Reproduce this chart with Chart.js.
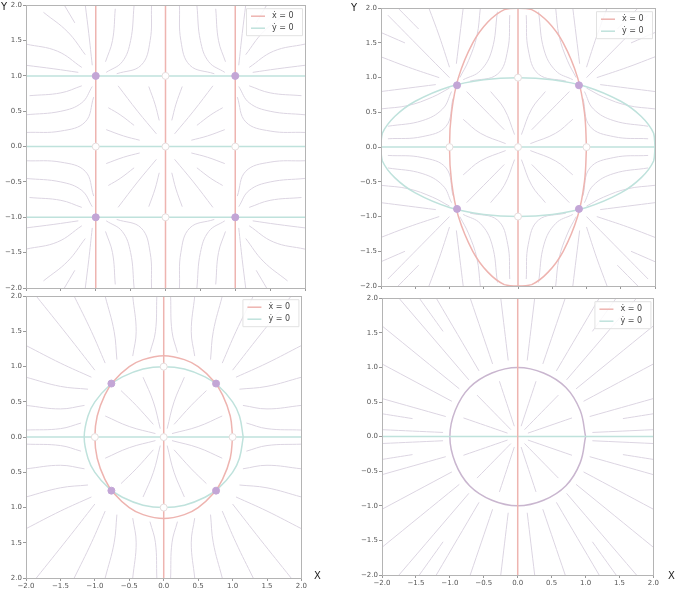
<!DOCTYPE html>
<html>
<head>
<meta charset="utf-8">
<script src="https://cdn.jsdelivr.net/npm/chart.js@4"></script>
<style>
  body { margin: 0; background: #fff; width: 678px; height: 589px; overflow: hidden; position: relative; font-family: "DejaVu Sans", sans-serif; }
  .panel { position: absolute; }
  .axname { position: absolute; font-size: 10px; color: #222; }
</style>
</head>
<body>
<div class="panel" style="left:0px;top:0px;width:310px;height:302px"><canvas id="c1"></canvas></div>
<div class="panel" style="left:355px;top:3px;width:305px;height:297px"><canvas id="c2"></canvas></div>
<div class="panel" style="left:0px;top:291px;width:308px;height:301px"><canvas id="c3"></canvas></div>
<div class="panel" style="left:356px;top:293px;width:304px;height:296px"><canvas id="c4"></canvas></div>
<div class="axname" style="left:1px;top:1px">Y</div>
<div class="axname" style="left:351px;top:2px">Y</div>
<div class="axname" style="left:314px;top:570px">X</div>
<div class="axname" style="left:668px;top:570px">X</div>
<script>
// colores
const ROJO = '#eeb4b0';
const VERDE = '#bfe2dc';
const MORADO = '#c3a6d6';
const GRIS_FLUJO = '#dcd5e2';
const CIRCULO = '#c9b6cf';

const tickVals = [-2, -1.5, -1, -0.5, 0, 0.5, 1, 1.5, 2];

// ---- Panel 1: nulclinas rectas ----
const p1RojoX = [-1, 0, 1];
const p1VerdeY = [-1, 0, 1];
const p1Estables = [[-1, 1], [1, 1], [-1, -1], [1, -1]];
const p1Abiertos = [[0, 0], [0, 1], [0, -1], [1, 0], [-1, 0]];
// lineas de flujo, cuadrante x>0, y>0 (se reflejan)
const p1Flujo = [
  [[0.09, 0.37], [0.15, 0.6], [0.24, 0.85]],
  [[0.13, 0.18], [0.4, 0.5], [0.68, 0.86]],
  [[0.37, 0.09], [0.6, 0.15], [0.85, 0.24]],
  [[0.45, 0.3], [0.65, 0.45], [0.82, 0.55]],
  [[2.0, 0.2], [1.5, 0.22], [1.15, 0.35], [1.03, 0.7]],
  [[2.0, 0.45], [1.5, 0.5], [1.2, 0.62], [1.05, 0.85]],
  [[1.95, 0.72], [1.5, 0.76], [1.2, 0.86]],
  [[0.2, 2.0], [0.22, 1.5], [0.35, 1.15], [0.7, 1.03]],
  [[0.45, 2.0], [0.5, 1.5], [0.62, 1.2], [0.85, 1.05]],
  [[0.72, 1.95], [0.76, 1.5], [0.86, 1.2]],
  [[1.15, 2.0], [1.1, 1.6], [1.05, 1.15]],
  [[1.75, 1.9], [1.4, 1.62], [1.15, 1.3]],
  [[2.0, 1.45], [1.55, 1.35], [1.2, 1.12]],
  [[2.0, 1.15], [1.6, 1.1], [1.25, 1.05]],
  [[1.45, 2.0], [1.3, 1.75]]
];

// ---- Panel 2: elipses ----
const p2Roja = [[1, 0], [0.97, 0.5], [0.87, 1], [0.66, 1.5], [0.44, 1.8], [0.2, 1.98], [0, 2], [-0.2, 1.98], [-0.44, 1.8], [-0.66, 1.5], [-0.87, 1], [-0.97, 0.5], [-1, 0], [-0.97, -0.5], [-0.87, -1], [-0.66, -1.5], [-0.44, -1.8], [-0.2, -1.98], [0, -2], [0.2, -1.98], [0.44, -1.8], [0.66, -1.5], [0.87, -1], [0.97, -0.5], [1, 0]];
const p2Verde = [[2, 0], [1.98, 0.2], [1.8, 0.44], [1.5, 0.66], [1, 0.87], [0.5, 0.97], [0, 1], [-0.5, 0.97], [-1, 0.87], [-1.5, 0.66], [-1.8, 0.44], [-1.98, 0.2], [-2, 0], [-1.98, -0.2], [-1.8, -0.44], [-1.5, -0.66], [-1, -0.87], [-0.5, -0.97], [0, -1], [0.5, -0.97], [1, -0.87], [1.5, -0.66], [1.8, -0.44], [1.98, -0.2], [2, 0]];
const p2Estables = [[0.89, 0.89], [-0.89, 0.89], [-0.89, -0.89], [0.89, -0.89]];
const p2Abiertos = [[0, 0], [1, 0], [-1, 0], [0, 1], [0, -1]];
const p2Flujo = [
  [[0.05, 0.18], [0.2, 0.55], [0.4, 0.8]],
  [[0.18, 0.05], [0.55, 0.2], [0.8, 0.4]],
  [[0.2, 0.25], [0.5, 0.55], [0.75, 0.8]],
  [[1.9, 0.12], [1.4, 0.15], [1.05, 0.3], [0.95, 0.7]],
  [[1.9, 0.3], [1.4, 0.38], [1.1, 0.55], [0.97, 0.8]],
  [[2.0, 0.55], [1.6, 0.6], [1.25, 0.72], [1.0, 0.85]],
  [[2.0, 0.8], [1.6, 0.85], [1.2, 0.9]],
  [[0.12, 1.9], [0.15, 1.4], [0.3, 1.05], [0.7, 0.95]],
  [[0.3, 1.95], [0.38, 1.4], [0.55, 1.1], [0.8, 0.97]],
  [[0.55, 2.0], [0.6, 1.6], [0.72, 1.25], [0.85, 1.0]],
  [[0.8, 2.0], [0.85, 1.6], [0.9, 1.2]],
  [[1.9, 1.9], [1.4, 1.4], [1.0, 1.0]],
  [[1.3, 2.0], [1.15, 1.6], [1.0, 1.15]],
  [[2.0, 1.3], [1.6, 1.15], [1.15, 1.0]],
  [[1.75, 2.0], [1.45, 1.7]],
  [[2.0, 1.65], [1.65, 1.5]]
];

// ---- Panel 3: curvas casi circulares ----
const p3Roja = [[1, 0], [0.966, 0.3], [0.854, 0.6], [0.721, 0.8], [0.5, 1.0], [0.3, 1.1], [0, 1.155], [-0.3, 1.1], [-0.5, 1.0], [-0.721, 0.8], [-0.854, 0.6], [-0.966, 0.3], [-1, 0], [-0.966, -0.3], [-0.854, -0.6], [-0.721, -0.8], [-0.5, -1.0], [-0.3, -1.1], [0, -1.155], [0.3, -1.1], [0.5, -1.0], [0.721, -0.8], [0.854, -0.6], [0.966, -0.3], [1, 0]];
const p3Verde = [[1.155, 0], [1.1, 0.3], [1.0, 0.5], [0.8, 0.721], [0.6, 0.854], [0.3, 0.966], [0, 1], [-0.3, 0.966], [-0.6, 0.854], [-0.8, 0.721], [-1.0, 0.5], [-1.1, 0.3], [-1.155, 0], [-1.1, -0.3], [-1.0, -0.5], [-0.8, -0.721], [-0.6, -0.854], [-0.3, -0.966], [0, -1], [0.3, -0.966], [0.6, -0.854], [0.8, -0.721], [1.0, -0.5], [1.1, -0.3], [1.155, 0]];
const p3Estables = [[0.76, 0.76], [-0.76, 0.76], [-0.76, -0.76], [0.76, -0.76]];
const p3Abiertos = [[0, 0], [1, 0], [-1, 0], [0, 1], [0, -1]];
const p3Flujo = [
  [[2.0, 0.1], [1.5, 0.12], [1.2, 0.2]],
  [[2.0, 0.45], [1.5, 0.4], [1.15, 0.45]],
  [[2.0, 0.85], [1.5, 0.72], [1.1, 0.68]],
  [[2.0, 1.3], [1.5, 1.05], [1.05, 0.85]],
  [[1.85, 2.0], [1.4, 1.45], [1.0, 0.95]],
  [[1.3, 2.0], [1.05, 1.5], [0.85, 1.05]],
  [[0.85, 2.0], [0.72, 1.5], [0.68, 1.1]],
  [[0.45, 2.0], [0.4, 1.5], [0.45, 1.15]],
  [[0.1, 2.0], [0.12, 1.5], [0.2, 1.2]],
  [[0.05, 0.12], [0.15, 0.5], [0.3, 0.85]],
  [[0.12, 0.05], [0.5, 0.15], [0.85, 0.3]],
  [[0.15, 0.18], [0.4, 0.45], [0.62, 0.66]]
];

// ---- Panel 4: circulo unitario ----
const p4Circulo = [[1, 0], [0.92, 0.38], [0.71, 0.71], [0.38, 0.92], [0, 1], [-0.38, 0.92], [-0.71, 0.71], [-0.92, 0.38], [-1, 0], [-0.92, -0.38], [-0.71, -0.71], [-0.38, -0.92], [0, -1], [0.38, -0.92], [0.71, -0.71], [0.92, -0.38], [1, 0]];
const p4Flujo = [
  [[2.0, 0.1], [1.1, 0.06]],
  [[2.0, 0.55], [1.06, 0.29]],
  [[2.0, 1.05], [0.97, 0.51]],
  [[2.0, 1.6], [0.86, 0.69]],
  [[1.75, 2.0], [0.72, 0.82]],
  [[1.2, 2.0], [0.57, 0.95]],
  [[0.7, 2.0], [0.37, 1.05]],
  [[0.25, 2.0], [0.14, 1.1]],
  [[2.0, 0.33], [1.55, 0.26]],
  [[1.45, 2.0], [1.1, 1.52]],
  [[0.15, 0.05], [0.8, 0.27]],
  [[0.1, 0.1], [0.6, 0.6]],
  [[0.05, 0.15], [0.27, 0.8]]
];

// ---- utilidades ----
function pts(arr) {
  return arr.map(p => ({ x: p[0], y: p[1] }));
}

// refleja las lineas del primer cuadrante a los otros tres
function reflejar(lineas) {
  const out = [];
  [[1, 1], [-1, 1], [-1, -1], [1, -1]].forEach(s => {
    lineas.forEach(l => out.push(l.map(p => [p[0] * s[0], p[1] * s[1]])));
  });
  return out;
}

function dsFlujo(lineas) {
  return reflejar(lineas).map(l => ({
    data: pts(l),
    showLine: true,
    borderColor: GRIS_FLUJO,
    borderWidth: 1,
    pointRadius: 0,
    tension: 0.4,
    order: 3
  }));
}

function dsCurva(arr, color, ancho) {
  return {
    data: pts(arr),
    showLine: true,
    borderColor: color,
    borderWidth: ancho || 1.5,
    pointRadius: 0,
    tension: 0.4,
    order: 2
  };
}

function dsVerticales(xs, color) {
  return xs.map(x => dsCurva([[x, -2], [x, 2]], color));
}

function dsHorizontales(ys, color) {
  return ys.map(y => dsCurva([[-2, y], [2, y]], color));
}

function dsPuntos(arr, relleno, borde) {
  return {
    data: pts(arr),
    showLine: false,
    pointRadius: 3.5,
    pointBackgroundColor: relleno,
    pointBorderColor: borde,
    pointBorderWidth: 1,
    order: 1
  };
}

// leyenda dibujada dentro del area del grafico
const leyendaInterna = {
  id: 'leyendaInterna',
  afterDraw(chart) {
    const ctx = chart.ctx;
    const a = chart.chartArea;
    const w = 56, h = 27;
    const x0 = a.right - w - 3, y0 = a.top + 3;
    ctx.save();
    ctx.fillStyle = 'rgba(255,255,255,0.85)';
    ctx.strokeStyle = '#e2e2e2';
    ctx.lineWidth = 1;
    ctx.beginPath();
    ctx.rect(x0 + 0.5, y0 + 0.5, w, h);
    ctx.fill();
    ctx.stroke();
    const items = [['\u1E8B = 0', ROJO], ['\u1E8F = 0', VERDE]];
    ctx.font = '8px "DejaVu Sans"';
    ctx.textBaseline = 'middle';
    items.forEach((it, i) => {
      const yy = y0 + 8 + i * 12;
      ctx.strokeStyle = it[1];
      ctx.lineWidth = 1.5;
      ctx.beginPath();
      ctx.moveTo(x0 + 5, yy);
      ctx.lineTo(x0 + 19, yy);
      ctx.stroke();
      ctx.fillStyle = '#444';
      ctx.fillText(it[0], x0 + 26, yy);
    });
    // marco completo
    ctx.strokeStyle = '#b4b4b4';
    ctx.lineWidth = 1;
    ctx.strokeRect(Math.round(a.left) + 0.5, Math.round(a.top) + 0.5, Math.round(a.right - a.left), Math.round(a.bottom - a.top));
    ctx.restore();
  }
};

function fmt(v, sinSigno) {
  const s = (sinSigno ? Math.abs(v) : v).toFixed(1);
  return s.replace('-', '\u2212');
}

function crearGrafico(id, datasets, opciones) {
  const escala = (eje) => ({
    type: 'linear',
    min: -2,
    max: 2,
    afterBuildTicks: s => { s.ticks = tickVals.map(v => ({ value: v })); },
    afterFit: s => {
      if (eje === 'x') s.height = 14; else s.width = 26;
    },
    border: { display: true, color: '#b4b4b4' },
    grid: { drawOnChartArea: false, drawTicks: true, tickLength: 3, color: '#999' },
    ticks: {
      display: eje === 'x' ? opciones.etiquetasX : true,
      autoSkip: false,
      maxRotation: 0,
      padding: 1,
      color: '#555',
      font: { family: 'DejaVu Sans', size: 7 },
      callback: v => fmt(v, eje === 'y' && opciones.sinSigno)
    }
  });
  return new Chart(document.getElementById(id), {
    type: 'scatter',
    data: { datasets: datasets },
    options: {
      responsive: true,
      maintainAspectRatio: false,
      animation: false,
      layout: { padding: { top: 4, right: 4, left: 0, bottom: 0 } },
      plugins: { legend: { display: false }, tooltip: { enabled: false } },
      scales: { x: escala('x'), y: escala('y') }
    },
    plugins: [leyendaInterna]
  });
}

crearGrafico('c1', [
  ...dsFlujo(p1Flujo),
  ...dsVerticales(p1RojoX, ROJO),
  ...dsHorizontales(p1VerdeY, VERDE),
  dsPuntos(p1Estables, MORADO, MORADO),
  dsPuntos(p1Abiertos, '#ffffff', '#e6dede')
], { etiquetasX: false });

crearGrafico('c2', [
  ...dsFlujo(p2Flujo),
  dsCurva(p2Roja, ROJO),
  dsCurva(p2Verde, VERDE),
  ...dsVerticales([0], ROJO),
  ...dsHorizontales([0], VERDE),
  dsPuntos(p2Estables, MORADO, MORADO),
  dsPuntos(p2Abiertos, '#ffffff', '#e6dede')
], { etiquetasX: false });

crearGrafico('c3', [
  ...dsFlujo(p3Flujo),
  dsCurva(p3Roja, ROJO),
  dsCurva(p3Verde, VERDE),
  ...dsVerticales([0], ROJO),
  ...dsHorizontales([0], VERDE),
  dsPuntos(p3Estables, MORADO, MORADO),
  dsPuntos(p3Abiertos, '#ffffff', '#e6dede')
], { etiquetasX: true, sinSigno: true });

crearGrafico('c4', [
  ...dsFlujo(p4Flujo),
  ...dsVerticales([0], ROJO),
  ...dsHorizontales([0], VERDE),
  dsCurva(p4Circulo, CIRCULO)
], { etiquetasX: true });
</script>
</body>
</html>
